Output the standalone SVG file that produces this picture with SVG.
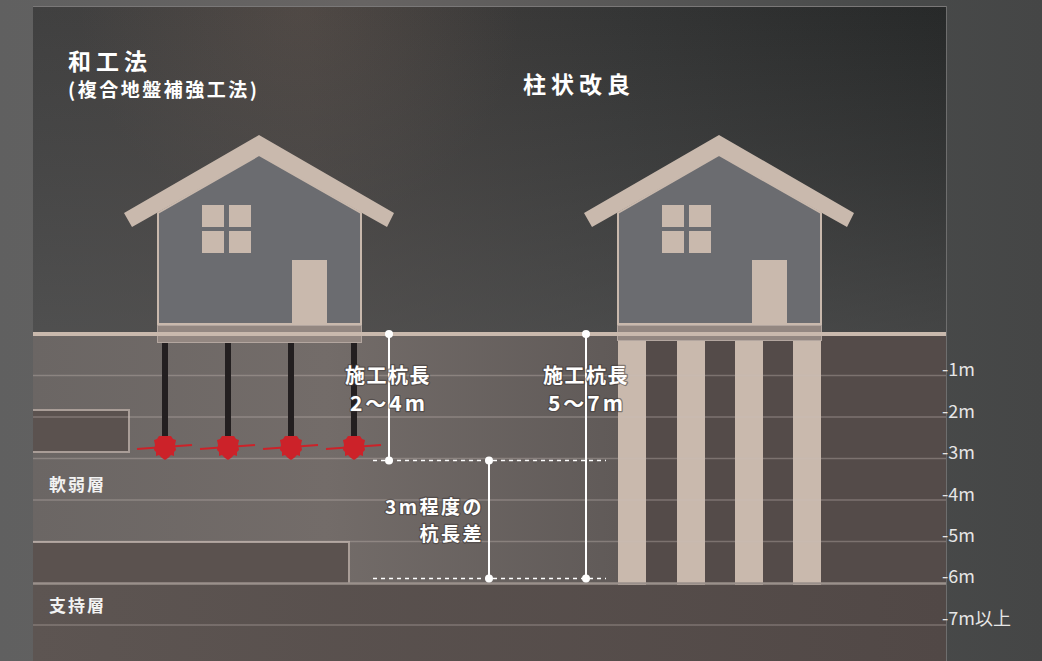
<svg xmlns="http://www.w3.org/2000/svg" xmlns:xlink="http://www.w3.org/1999/xlink" width="1042" height="661" viewBox="0 0 1042 661">
  <defs>
    <linearGradient id="bgOuter" x1="0" y1="0" x2="1" y2="0">
      <stop offset="0" stop-color="#606060"/>
      <stop offset="0.35" stop-color="#676463"/>
      <stop offset="0.85" stop-color="#484a4a"/>
      <stop offset="1" stop-color="#454646"/>
    </linearGradient>
    <linearGradient id="sky" x1="0" y1="0" x2="1" y2="0">
      <stop offset="0" stop-color="#404040"/>
      <stop offset="0.3" stop-color="#44403e"/>
      <stop offset="0.65" stop-color="#343535"/>
      <stop offset="1" stop-color="#272929"/>
    </linearGradient>
    <linearGradient id="skyFade" x1="0" y1="0" x2="0" y2="1">
      <stop offset="0" stop-color="#5c5c5c" stop-opacity="0"/>
      <stop offset="0.5" stop-color="#5c5c5c" stop-opacity="0.25"/>
      <stop offset="1" stop-color="#5c5c5c" stop-opacity="0.55"/>
    </linearGradient>
    <radialGradient id="skyGlow" cx="300" cy="10" r="220" gradientUnits="userSpaceOnUse">
      <stop offset="0" stop-color="#6a5d55" stop-opacity="0.3"/>
      <stop offset="1" stop-color="#6a5d55" stop-opacity="0"/>
    </radialGradient>
    <linearGradient id="softSoil" x1="33" y1="0" x2="618" y2="0" gradientUnits="userSpaceOnUse">
      <stop offset="0" stop-color="#6b6664"/>
      <stop offset="0.5" stop-color="#736c69"/>
      <stop offset="1" stop-color="#605a58"/>
    </linearGradient>
    <linearGradient id="bearing" x1="0" y1="0" x2="1" y2="0">
      <stop offset="0" stop-color="#5d5552"/>
      <stop offset="1" stop-color="#514846"/>
    </linearGradient>
    <style>
      .cjk { font-family: "Noto Sans CJK JP", "Noto Sans", sans-serif; }
      .title { fill: #ffffff; font-weight: bold; }
      .layer { fill: #f2f2f2; font-weight: bold; font-size: 17px; letter-spacing: 2px; }
      .scale { fill: #e6e6e6; font-size: 18px; }
      .dim { fill: #ffffff; font-weight: bold; stroke: #3b3534; stroke-opacity: 0.5; stroke-width: 2.5px; paint-order: stroke; stroke-linejoin: round; }
      .grid { stroke: #c8bcb6; stroke-opacity: 0.35; stroke-width: 1.5; }
      .tan { fill: #c9b9ad; }
      .wall { fill: #6b6c70; stroke: #c9b9ad; stroke-width: 2; }
      .found { fill: #938781; stroke: #b3a69f; stroke-width: 1; }
      .pile { fill: #231f20; }
      .wline { stroke: #ffffff; stroke-width: 2; fill: none; }
      .dash { stroke: #ffffff; stroke-width: 1.6; stroke-dasharray: 4 4; fill: none; }
      .dot { fill: #ffffff; }
      .hard { fill: #5b524f; }
      .hard-edge { fill: none; stroke: #a99d97; stroke-width: 2; }
    </style>
    <!-- spiral steel pile tip with its blade -->
    <g id="tip">
      <line x1="-28" y1="2" x2="27" y2="-2" stroke="#cc2229" stroke-width="2"/>
      <path d="M-6,-11 L6,-11 L8,-8 L11,-7 L10,-2 L11,3 L9,5 L9,9 L6,8 L3,11 L0,13 L-3,11 L-6,8 L-9,9 L-9,5 L-11,3 L-10,-2 L-11,-7 L-8,-8 Z" fill="#cc2229"/>
    </g>
    <!-- house silhouette, drawn at the left position -->
    <g id="house">
      <polygon class="wall" points="158,213 259,155 361,213 361,324 158,324"/>
      <polygon class="tan" points="124,213 259,135 394,213 387,227 259,155 132,227"/>
      <rect class="tan" x="202" y="205" width="22" height="22"/>
      <rect class="tan" x="229" y="205" width="22" height="22"/>
      <rect class="tan" x="202" y="231" width="22" height="22"/>
      <rect class="tan" x="229" y="231" width="22" height="22"/>
      <rect class="tan" x="292" y="260" width="35" height="64"/>
    </g>
  </defs>

  <!-- page and panel -->
  <g id="background">
    <rect x="0" y="0" width="1042" height="661" fill="url(#bgOuter)"/>
    <rect x="33" y="6" width="913" height="330" fill="url(#sky)"/>
    <rect x="33" y="6" width="913" height="330" fill="url(#skyGlow)"/>
    <rect x="33" y="6" width="913" height="330" fill="url(#skyFade)"/>
    <line x1="33" y1="6.5" x2="946" y2="6.5" stroke="#7a7878" stroke-width="1"/>
    <line x1="946.5" y1="6" x2="946.5" y2="661" stroke="#6e6e6e" stroke-width="1"/>
  </g>

  <!-- ground strata -->
  <g id="soil">
    <rect x="33" y="336" width="585" height="248" fill="url(#softSoil)"/>
    <rect x="618" y="336" width="328" height="248" fill="#544b49"/>
    <rect x="33" y="584" width="913" height="77" fill="url(#bearing)"/>
    <rect class="hard" x="33" y="410" width="96" height="42"/>
    <path class="hard-edge" d="M33,410 H129 V452 H33"/>
    <rect class="hard" x="33" y="542" width="316" height="42"/>
    <path class="hard-edge" d="M33,542 H349 V584"/>
  </g>

  <!-- improved soil columns -->
  <g id="columns-right">
    <rect class="tan" x="618" y="341" width="28" height="244"/>
    <rect class="tan" x="677" y="341" width="28" height="244"/>
    <rect class="tan" x="735" y="341" width="28" height="244"/>
    <rect class="tan" x="793" y="341" width="28" height="244"/>
  </g>

  <!-- depth grid -->
  <g id="grid">
    <line class="grid" x1="33" y1="375.5" x2="946" y2="375.5"/>
    <line class="grid" x1="33" y1="417" x2="946" y2="417"/>
    <line class="grid" x1="33" y1="458.5" x2="946" y2="458.5"/>
    <line class="grid" x1="33" y1="500" x2="946" y2="500"/>
    <line class="grid" x1="33" y1="541.5" x2="946" y2="541.5"/>
    <line x1="33" y1="583.5" x2="946" y2="583.5" stroke="#9a908b" stroke-width="2.5"/>
    <line class="grid" x1="33" y1="625" x2="946" y2="625"/>
  </g>

  <!-- steel piles with tips -->
  <g id="piles-left">
    <rect class="pile" x="162" y="343" width="6" height="100"/>
    <rect class="pile" x="225" y="343" width="6" height="100"/>
    <rect class="pile" x="288" y="343" width="6" height="100"/>
    <rect class="pile" x="351" y="343" width="6" height="100"/>
    <use xlink:href="#tip" transform="translate(165,447)"/>
    <use xlink:href="#tip" transform="translate(228,447)"/>
    <use xlink:href="#tip" transform="translate(291,447)"/>
    <use xlink:href="#tip" transform="translate(354,447)"/>
  </g>

  <g id="house-left">
    <use xlink:href="#house"/>
    <rect class="found" x="157.5" y="325.5" width="204" height="17"/>
  </g>

  <g id="house-right">
    <use xlink:href="#house" transform="translate(460,0)"/>
    <rect class="found" x="617.5" y="325.5" width="204" height="15" fill="#8b7c75"/>
  </g>

  <!-- ground surface -->
  <g id="ground">
    <line x1="33" y1="334" x2="946" y2="334" stroke="#c9b9ad" stroke-width="4"/>
  </g>

  <!-- dimension lines -->
  <g id="connectors">
    <line class="dash" x1="373" y1="460.5" x2="606" y2="460.5"/>
    <line class="dash" x1="373" y1="578.5" x2="606" y2="578.5"/>
    <line class="wline" x1="389" y1="334" x2="389" y2="460.5"/>
    <line class="wline" x1="489" y1="460.5" x2="489" y2="578.5"/>
    <line class="wline" x1="586" y1="334" x2="586" y2="578.5"/>
    <circle class="dot" cx="389" cy="334" r="4"/>
    <circle class="dot" cx="389" cy="460.5" r="4"/>
    <circle class="dot" cx="489" cy="460.5" r="4"/>
    <circle class="dot" cx="489" cy="578.5" r="4"/>
    <circle class="dot" cx="586" cy="334" r="4"/>
    <circle class="dot" cx="586" cy="578.5" r="4"/>
  </g>

  <!-- headings -->
  <g id="titles" class="cjk">
    <text class="title" x="68" y="70" font-size="23" letter-spacing="5">和工法</text>
    <text class="title" x="68" y="97" font-size="19" letter-spacing="2.5">(複合地盤補強工法)</text>
    <text class="title" x="523" y="93" font-size="23" letter-spacing="5">柱状改良</text>
  </g>

  <g id="layer-labels" class="cjk">
    <text class="layer" x="49" y="491">軟弱層</text>
    <text class="layer" x="49" y="612">支持層</text>
  </g>

  <g id="dim-labels" class="cjk">
    <text class="dim" x="388" y="383" font-size="20" letter-spacing="1.5" text-anchor="middle">施工杭長</text>
    <text class="dim" x="389" y="411" font-size="21" letter-spacing="3" text-anchor="middle">2～4m</text>
    <text class="dim" x="586" y="383" font-size="20" letter-spacing="1.5" text-anchor="middle">施工杭長</text>
    <text class="dim" x="587" y="411" font-size="21" letter-spacing="3" text-anchor="middle">5～7m</text>
    <text class="dim" x="484" y="514" font-size="19" letter-spacing="2.5" text-anchor="end">3m程度の</text>
    <text class="dim" x="484" y="541" font-size="19" letter-spacing="2.5" text-anchor="end">杭長差</text>
  </g>

  <g id="scale" class="cjk scale">
    <text x="942" y="376">-1m</text>
    <text x="942" y="418">-2m</text>
    <text x="942" y="459">-3m</text>
    <text x="942" y="501">-4m</text>
    <text x="942" y="542">-5m</text>
    <text x="942" y="583">-6m</text>
    <text x="942" y="625">-7m以上</text>
  </g>
</svg>
